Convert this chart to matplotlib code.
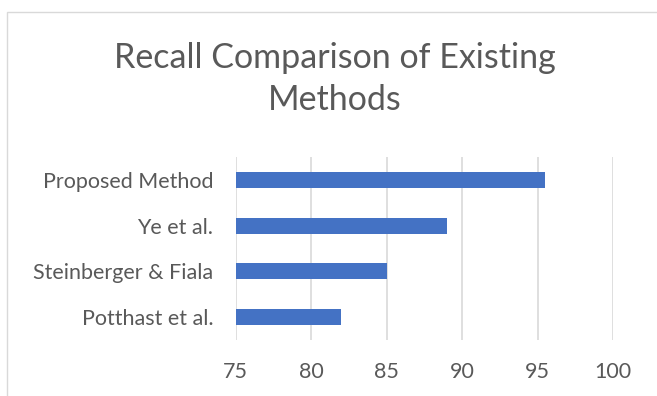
import matplotlib.pyplot as plt
from matplotlib.patches import Rectangle

methods = ["Potthast et al.", "Steinberger & Fiala", "Ye et al.", "Proposed Method"]
recall = [82, 85, 89, 95.5]
ticks = [75, 80, 85, 90, 95, 100]

plt.rcParams['font.family'] = ['Lato', 'DejaVu Sans']
text_color = '#595959'

W, H = 657, 396
fig = plt.figure(figsize=(W / 100, H / 100), dpi=100)

# chart-area border
fig.patches.append(Rectangle((7 / W, -0.05), 1.1, (H - 12) / H + 0.05,
                             transform=fig.transFigure, fill=False,
                             edgecolor='#D9D9D9', linewidth=1))

ax = fig.add_axes([235.5 / W, (H - 340) / H, (613 - 235.5) / W, (340 - 157) / H])
ax.barh(range(len(methods)), [r - ticks[0] for r in recall], left=ticks[0],
        height=0.35, color='#4472C4', zorder=3)

ax.set_xlim(ticks[0], ticks[-1])
ax.set_ylim(-0.5, len(methods) - 0.5)
ax.set_xticks(ticks)
ax.set_yticks(range(len(methods)))
ax.set_yticklabels(methods)
ax.grid(axis='x', color='#D9D9D9', linewidth=1.2, zorder=0)
for s in ax.spines.values():
    s.set_visible(False)
ax.tick_params(length=0, labelsize=15.5, colors=text_color)
ax.tick_params(axis='x', pad=16)
ax.tick_params(axis='y', pad=16)

fig.text(335 / W, 1 - 58 / H, "Recall Comparison of Existing", ha='center', va='center',
         fontsize=24.5, color=text_color)
fig.text(335 / W, 1 - 100 / H, "Methods", ha='center', va='center',
         fontsize=24.5, color=text_color)

fig.savefig('out.png', dpi=100)
